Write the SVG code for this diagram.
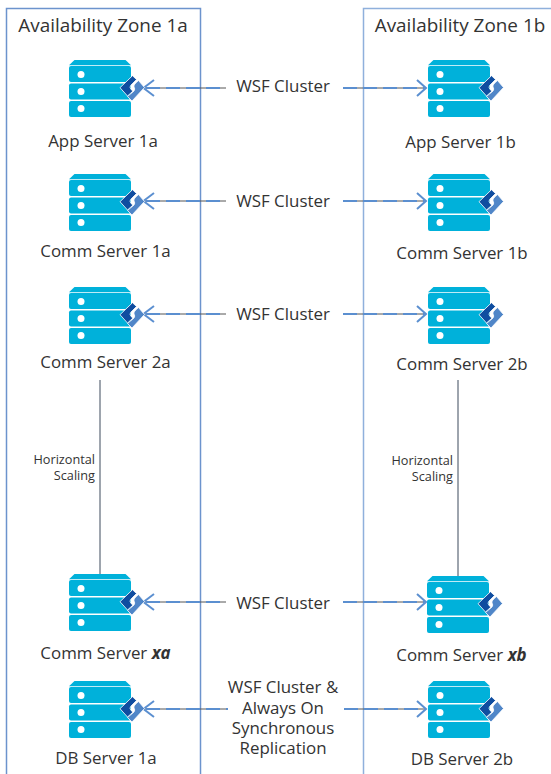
<svg xmlns="http://www.w3.org/2000/svg" width="551" height="774" viewBox="0 0 551 774">
<style>
text{font-family:"Open Sans","Noto Sans",sans-serif;fill:#333}
.t{font-size:18.900px;text-anchor:middle}
.n{font-size:16.900px;text-anchor:middle}
.c{font-size:16.900px;text-anchor:middle}
.h{font-size:12.700px;text-anchor:end}
.z{fill:none;stroke:#8fb0dc;stroke-width:1.5}
.z1{fill:none;stroke:#6c93cd;stroke-width:1.5}
.base{stroke:#555;stroke-width:1;fill:none}
.dash{stroke:#5b8fd0;stroke-width:2;stroke-dasharray:14 6;fill:none}
.head{stroke:#5b8fd0;stroke-width:2;fill:none}
.v{stroke:#3d4a5c;stroke-width:1;fill:none}
</style>
<defs>
<symbol id="server" viewBox="0 0 76 58" width="76" height="58" overflow="visible">
<path d="M0 5.200 L5.500 0 H56.500 L62 5.200Z" fill="#00b1da"/>
<rect x="0" y="6" width="62" height="16" rx="2" fill="#00b1da"/>
<rect x="0" y="23.500" width="62" height="16" rx="2" fill="#00b1da"/>
<rect x="0" y="41" width="62" height="16" rx="2" fill="#00b1da"/>
<circle cx="12" cy="14.500" r="3.500" fill="#fff"/>
<circle cx="12" cy="31.500" r="3.500" fill="#fff"/>
<circle cx="12" cy="48.500" r="3.500" fill="#fff"/>
<path d="M51 27.700 L63.500 15.700 L67.500 19.500 L62 25 Q60 27 62 29.500 L64 31 L58.500 36 Z" fill="#0f4da0" stroke="#fff" stroke-width="0.800"/>
<path d="M69.500 20.500 L75.500 27.500 L63 41 L58.500 36.500 L65 31 Q66.500 29 65 27 Q64 25 69.500 20.500Z" fill="#5086c8" stroke="#fff" stroke-width="0.800"/>
</symbol>
</defs>
<g id="zone-1a"><rect class="z1" x="6.500" y="8.500" width="194" height="770"/><text class="t" x="103" y="32">Availability Zone 1a</text></g>
<g id="zone-1b"><rect class="z" x="363.500" y="8.500" width="194" height="770"/><text class="t" x="460" y="32">Availability Zone 1b</text></g>
<g id="connectors">
<path class="base" d="M144 88H226M343 88H426M144 201H226M343 201H426M144 314H226M343 314H426M144 602H226M343 602H426M144 709H228M344 709H426"/>
<path class="dash" d="M146 88H226M343 88H424M146 201H226M343 201H424M146 314H226M343 314H424M146 602H226M343 602H424M146 709H228M344 709H424"/>
<path class="head" d="M154 80L143.500 88L154 96M417 80L426 88L417 96M154 193L143.500 201L154 209M417 193L426 201L417 209M154 306L143.500 314L154 322M417 306L426 314L417 322M154 594L143.500 602L154 610M417 594L426 602L417 610M154 701L143.500 709L154 717M417 701L426 709L417 717"/>
<path class="v" d="M100 380V574M458 380V576"/>
</g>
<g id="app-server-1a"><use href="#server" x="69" y="60"/><text class="n" x="103" y="147">App Server 1a</text></g>
<g id="app-server-1b"><use href="#server" x="428" y="60"/><text class="n" x="460.500" y="148">App Server 1b</text></g>
<g id="comm-server-1a"><use href="#server" x="69" y="174"/><text class="n" x="105.500" y="257">Comm Server 1a</text></g>
<g id="comm-server-1b"><use href="#server" x="428" y="174"/><text class="n" x="462" y="259">Comm Server 1b</text></g>
<g id="comm-server-2a"><use href="#server" x="69" y="287"/><text class="n" x="105.500" y="368">Comm Server 2a</text></g>
<g id="comm-server-2b"><use href="#server" x="428" y="287"/><text class="n" x="462" y="370">Comm Server 2b</text></g>
<g id="comm-server-xa"><use href="#server" x="69" y="574"/><text class="n" x="105.500" y="659">Comm Server <tspan font-weight="700" font-style="italic">xa</tspan></text></g>
<g id="comm-server-xb"><use href="#server" x="427" y="576"/><text class="n" x="461.500" y="661">Comm Server <tspan font-weight="700" font-style="italic">xb</tspan></text></g>
<g id="db-server-1a"><use href="#server" x="69" y="681"/><text class="n" x="106" y="764">DB Server 1a</text></g>
<g id="db-server-2b"><use href="#server" x="428" y="681"/><text class="n" x="462" y="765">DB Server 2b</text></g>
<g id="labels">
<text class="c" x="283" y="92">WSF Cluster</text>
<text class="c" x="283" y="207">WSF Cluster</text>
<text class="c" x="283" y="320">WSF Cluster</text>
<text class="c" x="283" y="609">WSF Cluster</text>
<text class="c" x="283" y="693">WSF Cluster &amp;</text>
<text class="c" x="283" y="714">Always On</text>
<text class="c" x="283" y="734">Synchronous</text>
<text class="c" x="283" y="754">Replication</text>
<text class="h" x="95" y="464">Horizontal</text>
<text class="h" x="95" y="480">Scaling</text>
<text class="h" x="453" y="465">Horizontal</text>
<text class="h" x="453" y="481">Scaling</text>
</g>
</svg>
